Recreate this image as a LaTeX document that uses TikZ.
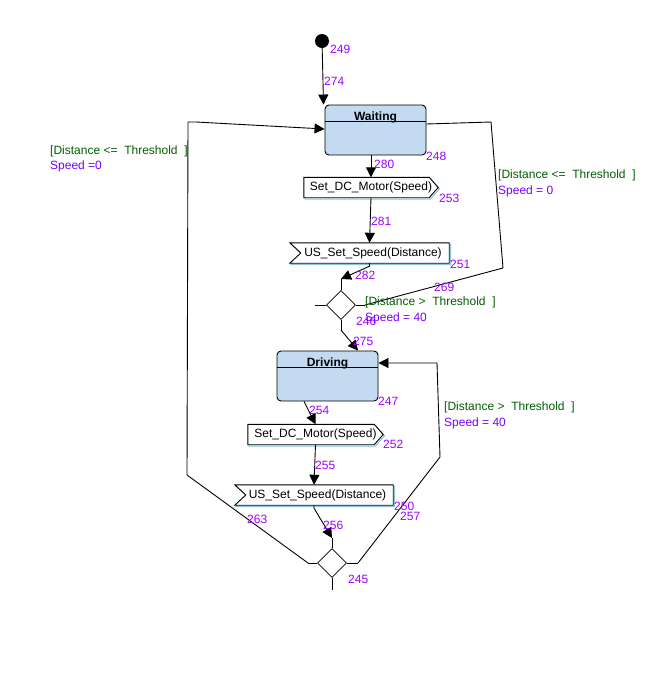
\documentclass[tikz,border=0pt]{standalone}
\usepackage{fontspec}
\setmainfont{Liberation Sans}
\usetikzlibrary{arrows.meta,shapes.geometric,backgrounds}
\definecolor{statefill}{HTML}{C4DAF0}
\definecolor{guardgreen}{HTML}{005F00}
\definecolor{actpurple}{HTML}{7A00FF}
\definecolor{idpurple}{HTML}{A000FF}
\definecolor{shadowblue}{HTML}{8EC3DC}

% outline of an action box with a pointer on the right
\newcommand\sendoutline[1]{%
  \begin{scope}[on background layer]
    \draw[shadowblue, line width=1pt, transform canvas={xshift=1.3pt,yshift=-1.3pt}]
      (#1.north west) -- ([xshift=-9pt]#1.north east) -- (#1.east)
      -- ([xshift=-9pt]#1.south east) -- (#1.south west) -- cycle;
    \draw[line width=0.9pt, fill=white]
      (#1.north west) -- ([xshift=-9pt]#1.north east) -- (#1.east)
      -- ([xshift=-9pt]#1.south east) -- (#1.south west) -- cycle;
  \end{scope}}
% outline of an action box with a notch on the left
\newcommand\recvoutline[1]{%
  \begin{scope}[on background layer]
    \draw[shadowblue, line width=1pt, transform canvas={xshift=1.3pt,yshift=-1.3pt}]
      (#1.north west) -- (#1.north east) -- (#1.south east)
      -- (#1.south west) -- ([xshift=11pt]#1.west) -- cycle;
    \draw[line width=0.9pt, fill=white]
      (#1.north west) -- (#1.north east) -- (#1.south east)
      -- (#1.south west) -- ([xshift=11pt]#1.west) -- cycle;
  \end{scope}}

\begin{document}
\begin{tikzpicture}[x=1pt,y=-1pt,
  every node/.style={font=\fontsize{12}{14}\selectfont, inner sep=0pt},
  statebox/.style={draw, line width=0.9pt, fill=statefill, rounded corners=4pt,
    minimum width=101pt, minimum height=50pt},
  statetitle/.style={font=\fontsize{12}{14}\selectfont\bfseries, anchor=base},
  actnode/.style={minimum height=20pt},
  junction/.style={draw, diamond, aspect=1, minimum width=29pt, minimum height=29pt, line width=0.8pt},
  idlbl/.style={text=idpurple, anchor=base west},
  guardlbl/.style={text=guardgreen, anchor=base west},
  actlbl/.style={text=actpurple, anchor=base west},
  tr/.style={line width=0.9pt, -{Triangle[length=10pt,width=10pt]}},
  plain/.style={line width=0.9pt}
]
\begin{scope}[on background layer]
  \fill[white] (0,0) rectangle (648,686);
\end{scope}
\useasboundingbox (0,0) rectangle (648,686);

% initial pseudo-state
\node[circle, fill=black, minimum size=14pt] (init) at (322,41) {};

% states
\node[statebox] (Waiting) at (375.5,130) {};
\node[statetitle] (wtitle) at (375.5,120) {Waiting};
\draw[plain] ([yshift=-17pt]Waiting.north west) -- ([yshift=-17pt]Waiting.north east);

\node[statebox] (Driving) at (327.5,376) {};
\node[statetitle] (dtitle) at (327.5,366) {Driving};
\draw[plain] ([yshift=-17pt]Driving.north west) -- ([yshift=-17pt]Driving.north east);

% actions
\node[actnode, minimum width=134pt] (set1) at (371,187.5) {Set\_DC\_Motor(Speed)};
\sendoutline{set1}
\node[actnode, minimum width=159pt] (us1) at (369.5,253) {\hspace*{7pt}US\_Set\_Speed(Distance)};
\recvoutline{us1}
\node[actnode, minimum width=135pt] (set2) at (315.5,434.5) {Set\_DC\_Motor(Speed)};
\sendoutline{set2}
\node[actnode, minimum width=158pt] (us2) at (314,495) {\hspace*{7pt}US\_Set\_Speed(Distance)};
\recvoutline{us2}

% junctions with their stubs
\node[junction] (dia1) at (341,305) {};
\coordinate (d1t) at (341,279);
\coordinate (d1b) at (341,330);
\coordinate (d1l) at (315,305);
\coordinate (d1r) at (365,305);
\draw[plain] (dia1.north) -- (d1t);
\draw[plain] (dia1.south) -- (d1b);
\draw[plain] (dia1.west) -- (d1l);
\draw[plain] (dia1.east) -- (d1r);

\node[junction] (dia2) at (332,563) {};
\coordinate (d2t) at (332,538);
\coordinate (d2b) at (332,590);
\coordinate (d2l) at (308,563);
\coordinate (d2r) at (358,563);
\draw[plain] (dia2.north) -- (d2t);
\draw[plain] (dia2.south) -- (d2b);
\draw[plain] (dia2.west) -- (d2l);
\draw[plain] (dia2.east) -- (d2r);

% bends of the loops
\coordinate (la) at (187,475);
\coordinate (lb) at (188,122);
\coordinate (lc) at (196,122);
\coordinate (ra) at (503,268);
\coordinate (rb) at (491,122);
\coordinate (sa) at (440,457);
\coordinate (sb) at (437,363);

% transitions
\draw[tr] (init) -- ([xshift=-1pt]Waiting.north west);
\draw[tr] (Waiting.south -| set1.north) -- (set1.north);
\draw[tr] (set1.south) -- (us1.north);
\draw[tr] (us1.south) -- ++(0,3) -- (d1t);
\draw[plain] (d1r) -- (ra) -- (rb) -- ([yshift=6pt]Waiting.east);
\draw[tr] (d1b) -- ([xshift=30.5pt]Driving.north);
\draw[tr] ([xshift=-23.5pt]Driving.south) -- (set2.north);
\draw[tr] (set2.south) -- (us2.north);
\draw[tr] (us2.south) -- ++(0,3) -- (d2t);
\draw[tr] (d2r) -- (sa) -- (sb) -- ([yshift=13pt]Driving.east);
\draw[tr] (d2l) -- (la) -- (lb) -- (lc) -- ([yshift=1pt]Waiting.west);

% element numbers
\node[idlbl] (n249) at (330,53) {249};
\node[idlbl] (n274) at (324,85) {274};
\node[idlbl] (n248) at (426,160) {248};
\node[idlbl] (n280) at (374,168) {280};
\node[idlbl] (n253) at (439,202) {253};
\node[idlbl] (n281) at (371,225) {281};
\node[idlbl] (n251) at (450,268) {251};
\node[idlbl] (n282) at (355,279) {282};
\node[idlbl] (n269) at (434,291) {269};
\node[idlbl] (n246) at (356,325) {246};
\node[idlbl] (n275) at (353,345) {275};
\node[idlbl] (n247) at (378,405) {247};
\node[idlbl] (n254) at (309,414) {254};
\node[idlbl] (n252) at (383,448) {252};
\node[idlbl] (n255) at (315,469) {255};
\node[idlbl] (n250) at (394,510) {250};
\node[idlbl] (n257) at (400,520) {257};
\node[idlbl] (n263) at (247,523) {263};
\node[idlbl] (n256) at (323,529) {256};
\node[idlbl] (n245) at (348,583) {245};

% guards and actions
\node[guardlbl] (g1) at (50,154) {[Distance <=\hspace{6.7pt}Threshold\hspace{6.7pt}]};
\node[actlbl] (a1) at (50,169) {Speed =0};
\node[guardlbl] (g2) at (498,178) {[Distance <=\hspace{6.7pt}Threshold\hspace{6.7pt}]};
\node[actlbl] (a2) at (498,194) {Speed = 0};
\node[guardlbl] (g3) at (365,305) {[Distance >\hspace{6.7pt}Threshold\hspace{6.7pt}]};
\node[actlbl] (a3) at (365,321) {Speed = 40};
\node[guardlbl] (g4) at (444,410) {[Distance >\hspace{6.7pt}Threshold\hspace{6.7pt}]};
\node[actlbl] (a4) at (444,426) {Speed = 40};
\end{tikzpicture}
\end{document}
